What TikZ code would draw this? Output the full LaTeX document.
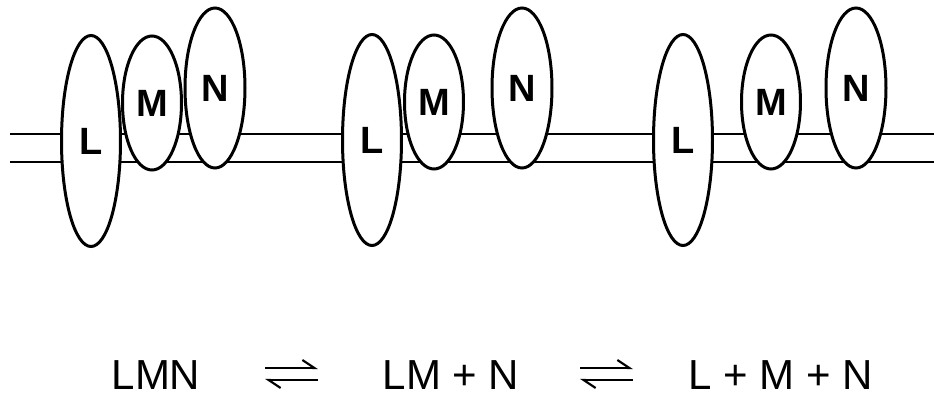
\documentclass[tikz,border=0pt]{standalone}
\usepackage{fontspec}
\setmainfont{Liberation Sans}
\usetikzlibrary{positioning,shapes.geometric,arrows.meta}

\begin{document}
\begin{tikzpicture}[x=0.5pt, y=-0.5pt,
		subunit/.style={shape=ellipse, draw, fill=white, line width=1.5pt, inner sep=0pt, font=\fontsize{19}{21}\selectfont\bfseries},
		lsub/.style={subunit, minimum width=29.5pt, minimum height=105.5pt},
		msub/.style={subunit, minimum width=29.5pt, minimum height=67pt},
		nsub/.style={subunit, minimum width=30pt, minimum height=80pt},
		membrane/.style={line width=1.2pt},
		species/.style={anchor=base, font=\fontsize{21}{24}\selectfont},
		harp/.style={line width=1.1pt, -{Straight Barb[harpoon, length=6pt, width=8pt]}}]
		\useasboundingbox (0,0) rectangle (934,396);

		\coordinate (top-w) at (10,134);
		\coordinate (top-e) at (934,134);
		\coordinate (bot-w) at (10,162);
		\coordinate (bot-e) at (934,162);
		\draw[membrane] (top-w) -- (top-e);
		\draw[membrane] (bot-w) -- (bot-e);

		% LMN
		\node[lsub] (L1) at (91,141) {L};
		\node[msub] (M1) at (152,103) {M};
		\node[nsub] (N1) at (215,88) {N};

		% LM + N
		\node[lsub] (L2) at (372,140) {L};
		\node[msub] (M2) at (434,102) {M};
		\node[nsub] (N2) at (522,88) {N};

		% L + M + N
		\node[lsub] (L3) at (683,140) {L};
		\node[msub] (M3) at (771,102) {M};
		\node[nsub] (N3) at (856,88) {N};

		\node[species] (lmn) at (156,389) {LMN};
		\node[species] (lmpn) at (451,389) {LM + N};
		\node[species] (lpmpn) at (781,389) {L + M + N};

		\coordinate (eq1-w) at (265,368);
		\coordinate (eq1-e) at (318,368);
		\coordinate (eq1-sw) at (265,380);
		\coordinate (eq1-se) at (318,380);
		\draw[harp] (eq1-w) -- (eq1-e);
		\draw[harp] (eq1-se) -- (eq1-sw);

		\coordinate (eq2-w) at (580,368);
		\coordinate (eq2-e) at (633,368);
		\coordinate (eq2-sw) at (580,380);
		\coordinate (eq2-se) at (633,380);
		\draw[harp] (eq2-w) -- (eq2-e);
		\draw[harp] (eq2-se) -- (eq2-sw);
	\end{tikzpicture}
\end{document}
